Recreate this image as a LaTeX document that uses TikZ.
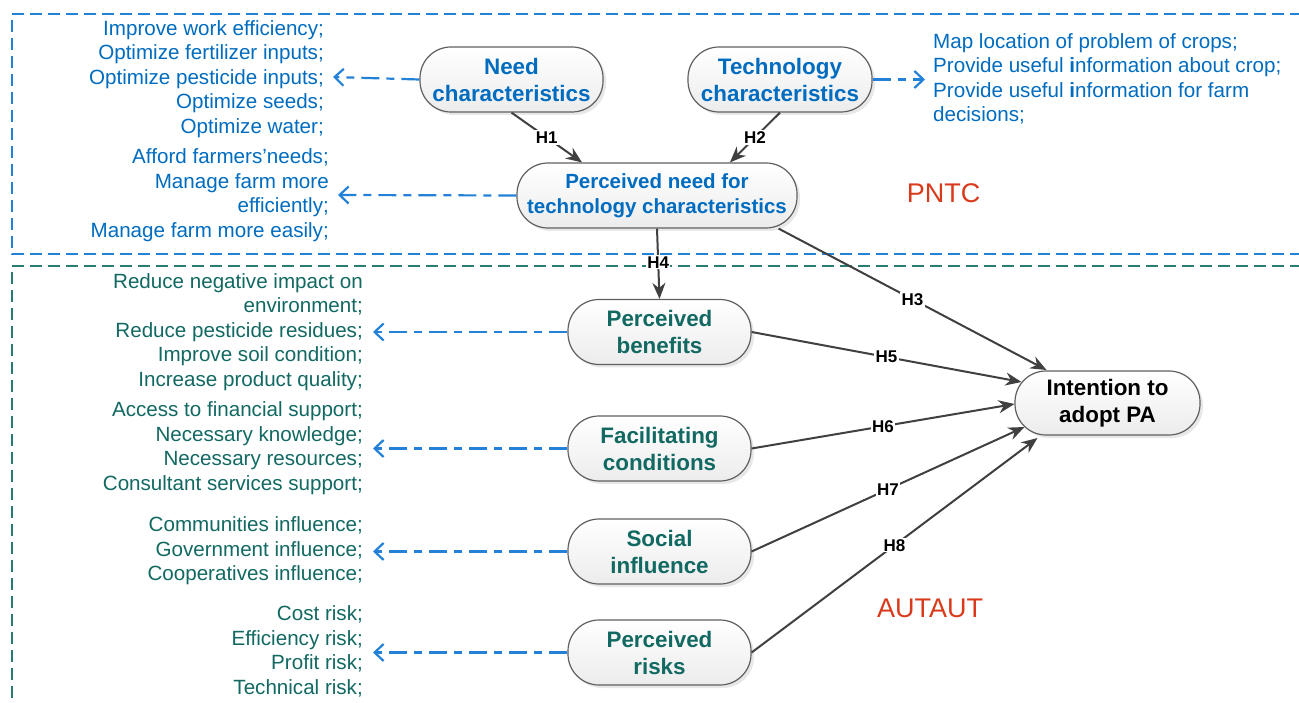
\documentclass[tikz,border=0pt]{standalone}
\usepackage{fontspec}
\setmainfont{Liberation Sans}
\usetikzlibrary{arrows.meta,shadows,calc}
\definecolor{tblue}{RGB}{0,108,192}
\definecolor{lblue}{RGB}{35,130,215}
\definecolor{tgreen}{RGB}{18,105,98}
\definecolor{dgreen}{RGB}{40,125,115}
\definecolor{tred}{RGB}{218,58,28}
\definecolor{edgec}{RGB}{64,64,64}
\tikzset{
  pill/.style={draw=gray!75!black, line width=1.2pt, rounded corners=31pt, minimum height=65pt,
    top color=white, bottom color=gray!15, drop shadow={opacity=0.18, shadow xshift=3pt, shadow yshift=-3pt},
    align=center, font=\fontsize{22.4}{27}\selectfont\bfseries, inner sep=0pt},
  listr/.style={align=right, font=\fontsize{20.6}{24.5}\selectfont, inner sep=0pt},
  listl/.style={align=left, font=\fontsize{20.6}{24.5}\selectfont, inner sep=0pt},
  hyp/.style={draw=edgec, line width=2pt, -{Stealth[length=16pt,width=13pt]}},
  hyplab/.style={fill=white, inner sep=1.2pt, font=\fontsize{17}{17}\selectfont\bfseries, text=black},
  ddarrow/.style={draw=lblue, line width=2.2pt, dash pattern=on 18pt off 7pt on 8pt off 7pt,
    -{Straight Barb[length=9pt,width=17pt,line width=2.2pt]}},
  dbox/.style={line width=2.2pt, dash pattern=on 12pt off 6pt},
  zone/.style={font=\fontsize{27}{27}\selectfont, text=tred, inner sep=0pt}
}
\begin{document}
\begin{tikzpicture}[x=1pt,y=-1pt]
\useasboundingbox (0,0) rectangle (1299,703);
\clip (0,0) rectangle (1299,703);
\fill[white] (0,0) rectangle (1299,703);

% zones
\draw[dbox, draw=lblue] (1320,14) -- (12,14) -- (12,254) -- (1320,254);
\draw[dbox, draw=dgreen] (1320,266) -- (12,266) -- (12,720);

% nodes
\node[pill, text=tblue, minimum width=183pt] (need) at (511.5,79.5) {Need\\characteristics};
\node[pill, text=tblue, minimum width=184pt] (tech) at (780,79.5) {Technology\\characteristics};
\node[pill, text=tblue, minimum width=280pt, font=\fontsize{20.5}{25}\selectfont\bfseries] (pn) at (657,195.5) {Perceived need for\\technology characteristics};
\node[pill, text=tgreen, minimum width=183pt] (pb) at (659.5,332) {Perceived\\benefits};
\node[pill, text=tgreen, minimum width=183pt] (fc) at (659.5,448.5) {Facilitating\\conditions};
\node[pill, text=tgreen, minimum width=183pt] (si) at (659.5,551.5) {Social\\influence};
\node[pill, text=tgreen, minimum width=183pt] (pr) at (659.5,652.5) {Perceived\\risks};
\node[pill, text=black, minimum width=185pt, minimum height=64pt] (int) at (1107.5,403) {Intention to\\adopt PA};

% lists
\node[listr, text=tblue, anchor=east] (l1) at (324,79) {Improve work efficiency;\\Optimize fertilizer inputs;\\Optimize pesticide inputs;\\Optimize seeds;\\Optimize water;};
\node[listr, text=tblue, anchor=east] (l2) at (329,195) {Afford farmers’needs;\\Manage farm more\\efficiently;\\Manage farm more easily;};
\node[listl, text=tblue, anchor=west] (l3) at (933,79) {Map location of problem of crops;\\Provide useful \textbf{i}nformation about crop;\\Provide useful \textbf{i}nformation for farm\\decisions;};
\node[listr, text=tgreen, anchor=east] (l4) at (363,332) {Reduce negative impact on\\environment;\\Reduce pesticide residues;\\Improve soil condition;\\Increase product quality;};
\node[listr, text=tgreen, anchor=east] (l5) at (363,448) {Access to financial support;\\Necessary knowledge;\\Necessary resources;\\Consultant services support;};
\node[listr, text=tgreen, anchor=east] (l6) at (363,551) {Communities influence;\\Government influence;\\Cooperatives influence;};
\node[listr, text=tgreen, anchor=east] (l7) at (363,651.5) {Cost risk;\\Efficiency risk;\\Profit risk;\\Technical risk;};

\node[zone] (pntc) at (943.5,193) {PNTC};
\node[zone] (autaut) at (930,608) {AUTAUT};

% dash-dot arrows
\coordinate (e1) at (333,77);
\coordinate (e2) at (338,195);
\coordinate (e3) at (925,79.5);
\coordinate (e4) at (373,332);
\coordinate (e5) at (373,448.5);
\coordinate (e6) at (373,551.5);
\coordinate (e7) at (373,652.5);
\draw[ddarrow] (need.west) -- (e1);
\draw[ddarrow] (pn.west) -- (e2);
\draw[ddarrow] (tech.east) -- (e3);
\draw[ddarrow] (pb.west) -- (e4);
\draw[ddarrow] (fc.west) -- (e5);
\draw[ddarrow] (si.west) -- (e6);
\draw[ddarrow] (pr.west) -- (e7);

% hypotheses
\draw[hyp] (need.south) -- node[hyplab]{H1} ($(pn.north)+(-75,0)$);
\draw[hyp] (tech.south) -- node[hyplab]{H2} ($(pn.north)+(73,0)$);
\draw[hyp] ($(pn.south east)+(-19,0)$) -- node[hyplab]{H3} ($(int.center)+(-61,-33)$);
\draw[hyp] (pn.south) -- node[hyplab, pos=0.48]{H4} (pb.north);
\draw[hyp] (pb.east) -- node[hyplab]{H5} ($(int.center)+(-86,-21)$);
\draw[hyp] (fc.east) -- node[hyplab]{H6} ($(int.center)+(-93,1)$);
\draw[hyp] (si.east) -- node[hyplab]{H7} ($(int.center)+(-83,24)$);
\draw[hyp] (pr.east) -- node[hyplab]{H8} ($(int.center)+(-70,35)$);
\end{tikzpicture}
\end{document}
